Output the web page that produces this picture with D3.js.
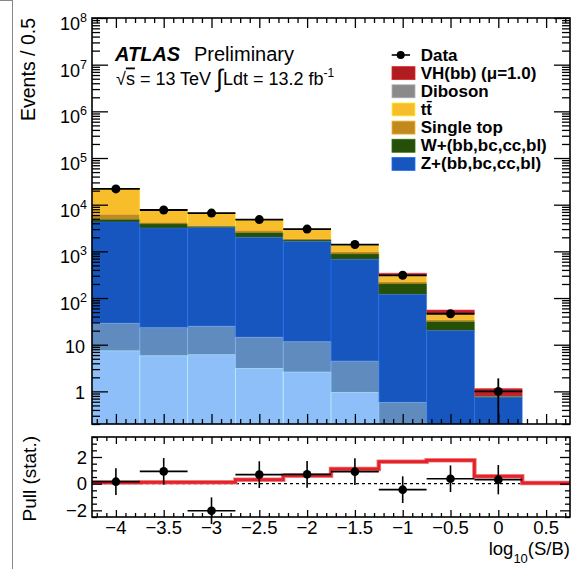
<!DOCTYPE html>
<html><head><meta charset="utf-8">
<script src="https://cdn.jsdelivr.net/npm/d3@7"></script>
<style>
body{margin:0;background:#fff}
text{font-family:"Liberation Sans",Arial,Helvetica,sans-serif;fill:#000}
</style>
</head><body>
<svg id="c" width="586" height="569"></svg>
<script>
// bin centres, log10(S/B), width 0.5
const binCenters = [-4, -3.5, -3, -2.5, -2, -1.5, -1, -0.5, 0]
// stacked backgrounds, bottom to top (events per bin)
const zLight   = [7.4, 5.8, 6.1, 3.1, 2.6, 0.95, 0.1, 0, 0]
const zCl      = [21.3, 17.3, 18.7, 11.3, 9.0, 3.5, 0.48, 0.05, 0]
const zHf      = [4231, 3137, 3185, 1986, 1628, 672, 119.4, 20, 0.75]
const wHf      = [560, 690, 180, 510, 110, 200, 80, 11.1, 0.02]
const singleTop= [1400, 340, 160, 310, 110, 107, 24, 3.2, 0.005]
const ttbar    = [15320, 3700, 3180, 1880, 1150, 370, 70, 10.5, 0.01]
const diboson  = [150, 60, 50, 40, 30, 15, 8, 1.2, 0.005]
const vhbb     = [10, 8, 6, 6, 6, 8, 38, 9.4, 0.36]
// data
const dataVals  = [21800, 7700, 6600, 4800, 3000, 1400, 307, 46, 1]
const dataErrUp = [148, 88, 81, 69, 55, 37, 17.5, 6.8, 0.9]
const dataErrDn = [148, 88, 81, 69, 55, 37, 17.5, 6.8, 1]
// pull panel
const pullVals = [0.15, 0.92, -2.03, 0.68, 0.7, 0.9, -0.45, 0.37, 0.3]
const pullErrs = [1, 1, 1, 1, 1, 1, 1, 1, 1.1]
const sigEdges = [-4.25, -3.75, -3.25, -2.75, -2.25, -1.75, -1.25, -0.75, -0.25, 0.25, 0.75]
const sigPull  = [0.08, 0.1, 0.1, 0.3, 0.6, 1.1, 1.65, 1.75, 0.55, 0.05]
// axis ticks
const xMajor = [-4, -3.5, -3, -2.5, -2, -1.5, -1, -0.5, 0, 0.5]
const xLabels = ["\u22124", "\u22123.5", "\u22123", "\u22122.5", "\u22122", "\u22121.5", "\u22121", "\u22120.5", "0", "0.5"]
const yDecades = [0, 1, 2, 3, 4, 5, 6, 7, 8]
const pullMajor = [-2, 0, 2]
const pullLabels = ["\u22122", "0", "2"]

const layers = [
  {key: "zl", vals: zLight, color: "#8ebff9"},
  {key: "zc", vals: zCl, color: "#5f8bbf"},
  {key: "zhf", vals: zHf, color: "#1756be"},
  {key: "w", vals: wHf, color: "#26500a"},
  {key: "st", vals: singleTop, color: "#c08a1e"},
  {key: "tt", vals: ttbar, color: "#f8bd2a"},
  {key: "db", vals: diboson, color: "#8a8a8a"},
  {key: "vh", vals: vhbb, color: "#c0232a"}
]
const legend = [
  {label: "VH(bb) (\u03bc=1.0)", color: "#b01d20"},
  {label: "Diboson", color: "#8a8a8a"},
  {label: "tt\u0304", color: "#f8bd2a"},
  {label: "Single top", color: "#c08a1e"},
  {label: "W+(bb,bc,cc,bl)", color: "#26500a"},
  {label: "Z+(bb,bc,cc,bl)", color: "#1756be"}
]

const svg = d3.select("#c")
// screenshot frame on the left
svg.append("line").attr("x1", 12.5).attr("x2", 12.5).attr("y1", 0).attr("y2", 569).attr("stroke", "#888").attr("stroke-width", 1)
svg.append("line").attr("x1", 0).attr("x2", 12.5).attr("y1", 0.5).attr("y2", 0.5).attr("stroke", "#888").attr("stroke-width", 1)

const L = 92, R = 570
const mainTop = 18, mainBot = 424
const pullTop = 437, pullBot = 517

const x = d3.scaleLinear().domain([-4.25, 0.75]).range([L, R])
const y = d3.scaleLog().domain([0.2, 1e8]).range([mainBot, mainTop]).clamp(true)
const yp = d3.scaleLinear().domain([-2.5, 3.5]).range([pullBot, pullTop])
const ys = v => y(Math.max(v, 1e-3))

// stack
const rows = binCenters.map((c, i) => {
  const r = {c: c}
  layers.forEach(l => r[l.key] = l.vals[i])
  return r
})
const stacked = d3.stack().keys(layers.map(l => l.key))(rows)

const gMain = svg.append("g")
stacked.forEach((s, li) => {
  const col = layers[li].color
  gMain.append("g").selectAll("rect").data(s).join("rect")
    .attr("x", d => x(d.data.c - 0.25))
    .attr("width", x(0.5) - x(0))
    .attr("y", d => ys(d[1]))
    .attr("height", d => Math.max(0, ys(d[0]) - ys(d[1])))
    .attr("fill", col)
})
// light outlines of the stack pieces
stacked.forEach((s, li) => {
  const col = d3.color(layers[li].color).brighter(0.7)
  gMain.append("g").selectAll("path").data(s.filter(d => ys(d[0]) - ys(d[1]) > 0.5)).join("path")
    .attr("d", d => `M${x(d.data.c - 0.25)},${ys(d[0])}V${ys(d[1])}H${x(d.data.c + 0.25)}V${ys(d[0])}`)
    .attr("fill", "none").attr("stroke", col).attr("stroke-width", 0.8).attr("opacity", 0.6)
})

// data points
const gData = svg.append("g")
binCenters.forEach((c, i) => {
  const v = dataVals[i]
  gData.append("line").attr("x1", x(c - 0.25)).attr("x2", x(c + 0.25)).attr("y1", y(v)).attr("y2", y(v))
    .attr("stroke", "#000").attr("stroke-width", 1.8)
  gData.append("line").attr("x1", x(c)).attr("x2", x(c)).attr("y1", ys(v - dataErrDn[i])).attr("y2", y(v + dataErrUp[i]))
    .attr("stroke", "#000").attr("stroke-width", 1.8)
  gData.append("circle").attr("cx", x(c)).attr("cy", y(v)).attr("r", 4.5).attr("fill", "#000")
})

// log ticks
const yMinors = []
for (let e = -1; e < 8; e++) for (let k = 2; k <= 9; k++) {
  const v = k * Math.pow(10, e)
  if (v >= 0.2 && v < 1e8) yMinors.push(v)
}
const yMajorVals = yDecades.map(e => Math.pow(10, e))
const xMinors = d3.range(-42, 8).map(d => d / 10).filter(d => Math.abs(d * 2 - Math.round(d * 2)) > 1e-6)

function tickAxis(g, axis) {
  g.call(axis)
  g.select(".domain").remove()
  g.selectAll("line").attr("stroke", "#000").attr("stroke-width", 1.3)
}
tickAxis(svg.append("g").attr("transform", `translate(${L},0)`), d3.axisLeft(y).tickValues(yMajorVals).tickSize(-16).tickFormat(""))
tickAxis(svg.append("g").attr("transform", `translate(${L},0)`), d3.axisLeft(y).tickValues(yMinors).tickSize(-8).tickFormat(""))
tickAxis(svg.append("g").attr("transform", `translate(${R},0)`), d3.axisRight(y).tickValues(yMajorVals).tickSize(-16).tickFormat(""))
tickAxis(svg.append("g").attr("transform", `translate(${R},0)`), d3.axisRight(y).tickValues(yMinors).tickSize(-8).tickFormat(""))
tickAxis(svg.append("g").attr("transform", `translate(0,${mainBot})`), d3.axisBottom(x).tickValues(xMajor).tickSize(-10).tickFormat(""))
tickAxis(svg.append("g").attr("transform", `translate(0,${mainBot})`), d3.axisBottom(x).tickValues(xMinors).tickSize(-5).tickFormat(""))
tickAxis(svg.append("g").attr("transform", `translate(0,${mainTop})`), d3.axisTop(x).tickValues(xMajor).tickSize(-10).tickFormat(""))
tickAxis(svg.append("g").attr("transform", `translate(0,${mainTop})`), d3.axisTop(x).tickValues(xMinors).tickSize(-5).tickFormat(""))

// y labels
yDecades.forEach(e => {
  const t = svg.append("text").attr("text-anchor", "end").attr("font-size", 18)
  if (e === 0) t.attr("x", 85).attr("y", y(1) + 8).text("1")
  else if (e === 1) t.attr("x", 85).attr("y", y(10) + 8).text("10")
  else {
    t.attr("x", 87).attr("y", y(Math.pow(10, e)) + 12)
    t.append("tspan").text("10")
    t.append("tspan").attr("font-size", 12.5).attr("dy", -8).text(e)
  }
})
svg.append("text").attr("transform", "translate(35,18) rotate(-90)").attr("text-anchor", "end")
  .attr("font-size", 19.5).text("Events / 0.5")

svg.append("rect").attr("x", L).attr("y", mainTop).attr("width", R - L).attr("height", mainBot - mainTop)
  .attr("fill", "none").attr("stroke", "#000").attr("stroke-width", 1.6)

// ATLAS label
const at = svg.append("text").attr("x", 115).attr("y", 61).attr("font-size", 20)
at.append("tspan").attr("font-weight", "bold").attr("font-style", "italic").text("ATLAS")
at.append("tspan").attr("x", 194).text("Preliminary")
const en = svg.append("text").attr("x", 116).attr("y", 84.5).attr("font-size", 18)
en.append("tspan").text("\u221a")
en.append("tspan").attr("text-decoration", "overline").text("s")
en.append("tspan").text(" = 13 TeV ")
en.append("tspan").attr("font-size", 25).attr("dy", 2).text("\u222b")
en.append("tspan").attr("dy", -2).text("Ldt = 13.2 fb")
en.append("tspan").attr("font-size", 12).attr("dy", -8).text("-1")

// legend
const lg = svg.append("g")
const rowY = i => 60.5 + i * 18.15
lg.append("line").attr("x1", 391.7).attr("x2", 410).attr("y1", rowY(0) - 5.5).attr("y2", rowY(0) - 5.5).attr("stroke", "#000").attr("stroke-width", 1.6)
lg.append("circle").attr("cx", 400.7).attr("cy", rowY(0) - 5.5).attr("r", 4).attr("fill", "#000")
lg.append("text").attr("x", 420.7).attr("y", rowY(0)).attr("font-size", 17).attr("font-weight", "bold").text("Data")
legend.forEach((d, i) => {
  const yy = rowY(i + 1)
  lg.append("rect").attr("x", 392).attr("y", yy - 12).attr("width", 23).attr("height", 13)
    .attr("fill", d.color).attr("stroke", d3.color(d.color).brighter(0.7)).attr("stroke-width", 0.8)
  lg.append("text").attr("x", 420.7).attr("y", yy).attr("font-size", 17).attr("font-weight", "bold").text(d.label)
})

// pull panel
const gp = svg.append("g")
gp.append("line").attr("x1", x(-4.25)).attr("x2", x(0.25)).attr("y1", yp(0)).attr("y2", yp(0))
  .attr("stroke", "#000").attr("stroke-width", 1.3).attr("stroke-dasharray", "3,3")
const sigPts = sigEdges.map((e, i) => [e, sigPull[Math.min(i, sigPull.length - 1)]])
const stepLine = d3.line().x(d => x(d[0])).y(d => yp(d[1])).curve(d3.curveStepAfter)
gp.append("path").attr("d", stepLine(sigPts)).attr("fill", "none").attr("stroke", "#f07a7c").attr("stroke-width", 4.5)
gp.append("path").attr("d", stepLine(sigPts)).attr("fill", "none").attr("stroke", "#e3222a").attr("stroke-width", 2.8)
binCenters.forEach((c, i) => {
  const v = pullVals[i]
  gp.append("line").attr("x1", x(c - 0.25)).attr("x2", x(c + 0.25)).attr("y1", yp(v)).attr("y2", yp(v))
    .attr("stroke", "#000").attr("stroke-width", 1.6)
  gp.append("line").attr("x1", x(c)).attr("x2", x(c)).attr("y1", yp(v - pullErrs[i])).attr("y2", yp(v + pullErrs[i]))
    .attr("stroke", "#000").attr("stroke-width", 1.6)
  gp.append("circle").attr("cx", x(c)).attr("cy", yp(v)).attr("r", 4.3).attr("fill", "#000")
})

const pMinors = d3.range(-5, 8).map(d => d / 2).filter(d => pullMajor.indexOf(d) < 0)
tickAxis(svg.append("g").attr("transform", `translate(${L},0)`), d3.axisLeft(yp).tickValues(pullMajor).tickSize(-10).tickFormat(""))
tickAxis(svg.append("g").attr("transform", `translate(${L},0)`), d3.axisLeft(yp).tickValues(pMinors).tickSize(-5).tickFormat(""))
tickAxis(svg.append("g").attr("transform", `translate(${R},0)`), d3.axisRight(yp).tickValues(pullMajor).tickSize(-10).tickFormat(""))
tickAxis(svg.append("g").attr("transform", `translate(${R},0)`), d3.axisRight(yp).tickValues(pMinors).tickSize(-5).tickFormat(""))
tickAxis(svg.append("g").attr("transform", `translate(0,${pullBot})`), d3.axisBottom(x).tickValues(xMajor).tickSize(-7).tickFormat(""))
tickAxis(svg.append("g").attr("transform", `translate(0,${pullBot})`), d3.axisBottom(x).tickValues(xMinors).tickSize(-4).tickFormat(""))
tickAxis(svg.append("g").attr("transform", `translate(0,${pullTop})`), d3.axisTop(x).tickValues(xMajor).tickSize(-7).tickFormat(""))
tickAxis(svg.append("g").attr("transform", `translate(0,${pullTop})`), d3.axisTop(x).tickValues(xMinors).tickSize(-4).tickFormat(""))

svg.append("rect").attr("x", L).attr("y", pullTop).attr("width", R - L).attr("height", pullBot - pullTop)
  .attr("fill", "none").attr("stroke", "#000").attr("stroke-width", 1.6)

pullMajor.forEach((v, i) => {
  svg.append("text").attr("x", 87).attr("y", yp(v) + 6.5).attr("text-anchor", "end").attr("font-size", 18.5).text(pullLabels[i])
})
xMajor.forEach((v, i) => {
  svg.append("text").attr("x", x(v)).attr("y", 533.5).attr("text-anchor", "middle").attr("font-size", 18.5).text(xLabels[i])
})
svg.append("text").attr("transform", "translate(36,436) rotate(-90)").attr("text-anchor", "end")
  .attr("font-size", 19).text("Pull (stat.)")
const xt = svg.append("text").attr("x", 570).attr("y", 555).attr("text-anchor", "end").attr("font-size", 18.5)
xt.append("tspan").text("log")
xt.append("tspan").attr("font-size", 13).attr("dy", 8).text("10")
xt.append("tspan").attr("dy", -8).text("(S/B)")
</script>
</body></html>
